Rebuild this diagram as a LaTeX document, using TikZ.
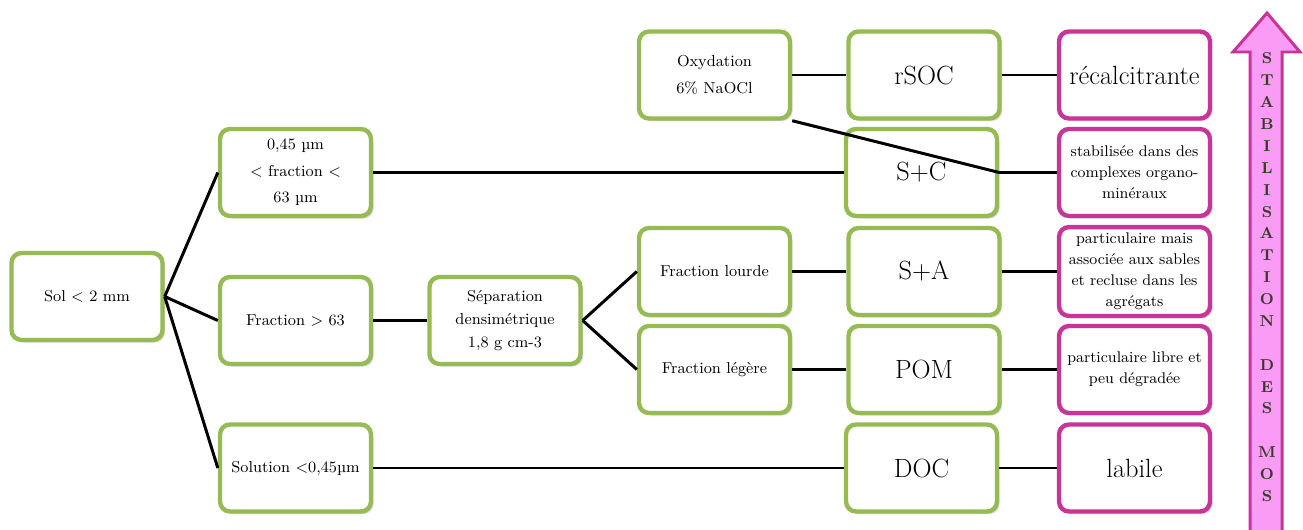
\documentclass[tikz,border=0pt]{standalone}
\usepackage{fontspec}
\usepackage{tikz}
\usetikzlibrary{shadows}
\definecolor{boxgreen}{RGB}{150,186,84}
\definecolor{boxpink}{RGB}{200,52,152}
\definecolor{arrowfill}{RGB}{250,156,246}
\definecolor{mostext}{RGB}{58,58,44}

\begin{document}
\begin{tikzpicture}[font=\fontsize{9}{15}\selectfont,
  gbox/.style={draw=boxgreen, line width=2.5pt, rounded corners=0.2cm, fill=white,
    minimum width=3.02cm, minimum height=1.74cm, align=center,
    drop shadow={shadow xshift=0.05cm, shadow yshift=-0.05cm, opacity=0.3}},
  mbox/.style={gbox, draw=boxpink, font=\fontsize{8.8}{12}\selectfont},
  big/.style={font=\fontsize{15}{18}\selectfont},
  link/.style={line width=1.7pt}]
%\draw[help lines] (0,0) grid (26,10);
\useasboundingbox (0,0) rectangle (26.06,10.58);
\node (sol) [gbox] at (1.74,4.65) {Sol < 2 mm};
\node (fa) [gbox] at (5.91,7.13) {0,45 µm\\< fraction <\\63 µm};
\node (fb) [gbox] at (5.91,4.17) {Fraction > 63};
\node (fc) [gbox] at (5.91,1.22) {Solution <0,45µm};
\node (sep) [gbox, font=\fontsize{9}{13}\selectfont] at (10.10,4.17) {Séparation\\densimétrique\\1,8 g cm-3};
\node (oxy) [gbox] at (14.29,9.08) {Oxydation\\6\% NaOCl};
\node (fl) [gbox] at (14.29,5.15) {Fraction lourde};
\node (fg) [gbox] at (14.29,3.19) {Fraction légère};
\node (rsoc) [gbox, big] at (18.48,9.08) {rSOC};
\node (sc) [gbox, big] at (18.43,7.13) {S+C};
\node (sa) [gbox, big] at (18.48,5.15) {S+A};
\node (pom) [gbox, big] at (18.48,3.19) {POM};
\node (doc) [gbox, big] at (18.43,1.22) {DOC};
\node (rec) [mbox, big] at (22.69,9.08) {récalcitrante};
\node (stab) [mbox] at (22.69,7.13) {stabilisée dans des\\complexes organo-\\minéraux};
\node (pma) [mbox] at (22.69,5.15) {particulaire mais\\associée aux sables\\et recluse dans les\\agrégats};
\node (plib) [mbox] at (22.69,3.19) {particulaire libre et\\peu dégradée};
\node (lab) [mbox, big] at (22.69,1.22) {labile};
\draw[draw=boxpink, fill=arrowfill, line width=1.7pt, line join=miter]
  (25.0,-0.3) -- (25.0,9.54) -- (24.66,9.54) -- (25.34,10.32) -- (26.0,9.54)
  -- (25.64,9.54) -- (25.64,-0.3) -- cycle;
\node (mos) [anchor=north, inner sep=0pt, align=center, text=mostext,
  font=\bfseries\fontsize{9}{12.45}\selectfont] at (25.34,9.53)
  {S\\T\\A\\B\\I\\L\\I\\S\\A\\T\\I\\O\\N\\~\\D\\E\\S\\~\\M\\O\\S};
\path[link]
(sol.east) edge (fa.west)
(sol.east) edge (fb.west)
(sol.east) edge (fc.west)
(fa) edge (sc)
(fb) edge (sep)
(fc) edge (doc)
(sep.east) edge (fl.west)
(sep.east) edge (fg.west)
(oxy) edge (rsoc)
(fl) edge (sa)
(fg) edge (pom)
(rsoc) edge (rec)
(sa) edge (pma)
(pom) edge (plib)
(doc) edge (lab);
\draw[link] (oxy.south east) -- (sc.east) -- (stab.west);
\end{tikzpicture}
\end{document}
